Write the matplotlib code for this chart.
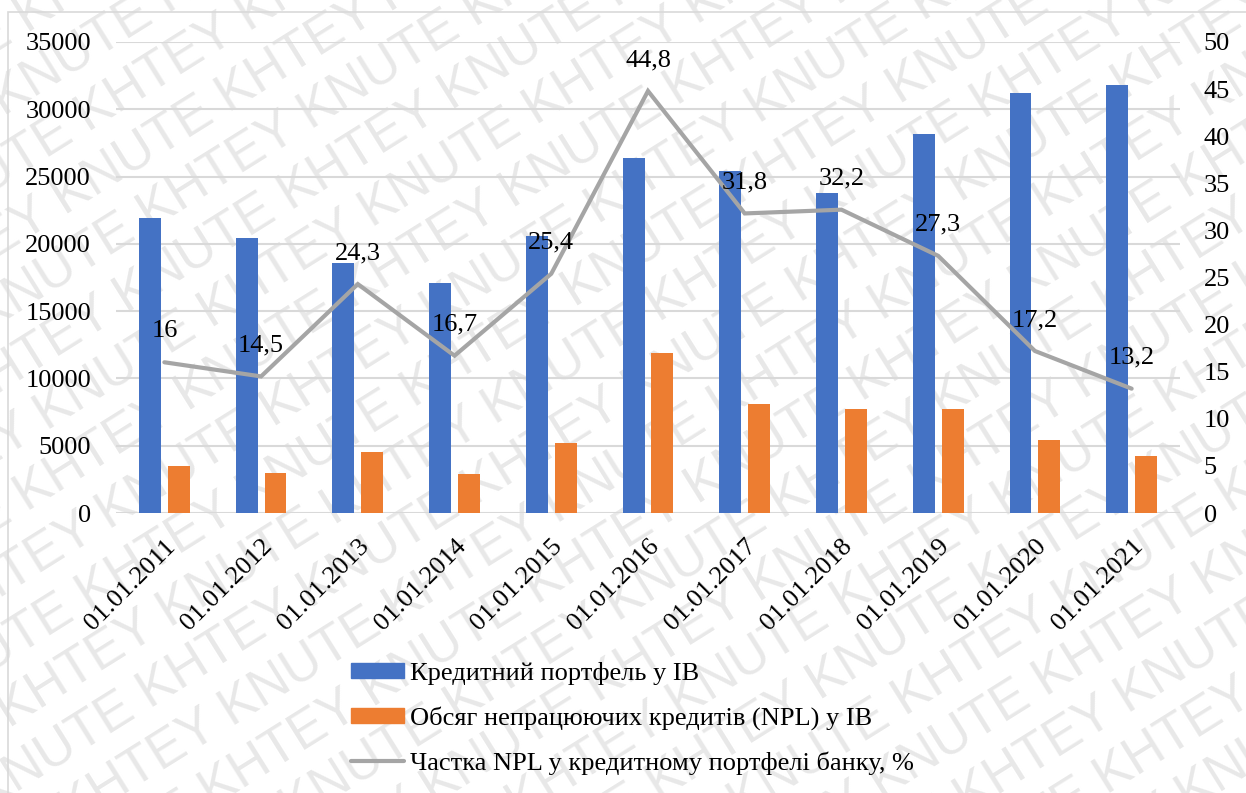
import numpy as np
import matplotlib.pyplot as plt
from matplotlib.patches import Patch, Rectangle
from matplotlib.lines import Line2D

plt.rcParams['font.family'] = 'Liberation Serif'

dates = ['01.01.2011', '01.01.2012', '01.01.2013', '01.01.2014', '01.01.2015',
         '01.01.2016', '01.01.2017', '01.01.2018', '01.01.2019', '01.01.2020',
         '01.01.2021']
portfolio = [21900, 20400, 18600, 17100, 20600, 26400, 25400, 23800, 28200, 31200, 31800]
npl_volume = [3500, 3000, 4500, 2900, 5200, 11900, 8100, 7700, 7700, 5400, 4200]
npl_share = [16, 14.5, 24.3, 16.7, 25.4, 44.8, 31.8, 32.2, 27.3, 17.2, 13.2]

lbl_portfolio = 'Кредитний портфель у ІВ'
lbl_volume = 'Обсяг непрацюючих кредитів (NPL) у ІВ'
lbl_share = 'Частка NPL у кредитному портфелі банку, %'

blue = '#4472c4'
orange = '#ed7d31'
grey = '#a5a5a5'
grid_c = '#d9d9d9'
fs = 19

W, H = 1246, 793
fig = plt.figure(figsize=(W / 100, H / 100), dpi=100)

# watermark tiled diagonally behind the chart
ang_deg = 32
ang = np.deg2rad(ang_deg)
d = np.array([np.cos(ang), np.sin(ang)])
n = np.array([-np.sin(ang), np.cos(ang)])
for k in range(-12, 13):
    word = 'KHTEY KNUTE ' if k % 2 == 0 else 'KNUTE KHTEY '
    p = np.array([W / 2, H / 2]) + k * 58 * n - 950 * d + (k % 2) * 60 * d
    t = fig.text(p[0] / W, p[1] / H, word * 9, fontsize=38, color='#e8e8e8',
                 family='Liberation Sans', rotation=ang_deg, rotation_mode='anchor',
                 ha='left', va='center', zorder=-10)
    t.set_clip_box(fig.bbox)
    t.set_clip_on(True)

# thin frame around the chart area
fig.patches.append(Rectangle((8 / W, -0.1), 2, 1 - 12 / H + 0.1, transform=fig.transFigure,
                             fill=False, edgecolor=grid_c, linewidth=1.2, zorder=-5))

ax = fig.add_axes([116 / W, 1 - 513 / H, (1180 - 116) / W, (513 - 42) / H])
ax.set_facecolor('none')
x = np.arange(len(dates))
w = 0.227
ax.bar(x - 0.149, portfolio, w, color=blue, zorder=2)
ax.bar(x + 0.149, npl_volume, w, color=orange, zorder=2)
ax.set_xlim(-0.5, len(dates) - 0.5)
ax.set_ylim(0, 35000)
ax.set_yticks(np.arange(0, 35001, 5000))
ax.yaxis.grid(True, color=grid_c, linewidth=1.5, zorder=0)
ax.set_axisbelow(True)
for s in ax.spines.values():
    s.set_visible(False)
ax.tick_params(axis='y', length=0, labelsize=fs, pad=18)
ax.tick_params(axis='x', length=0, labelsize=fs, pad=16)
ax.set_xticks(x)
ax.set_xticklabels(dates, rotation=45, ha='right', va='top', rotation_mode='anchor')

ax2 = ax.twinx()
ax2.set_ylim(0, 50)
ax2.set_yticks(np.arange(0, 51, 5))
for s in ax2.spines.values():
    s.set_visible(False)
ax2.tick_params(axis='y', length=0, labelsize=fs, pad=17)
ax2.plot(x, npl_share, color=grey, linewidth=3, solid_capstyle='round',
         solid_joinstyle='miter', zorder=3)
for xi, v in zip(x, npl_share):
    ax2.annotate(f'{v:g}'.replace('.', ','), (xi, v), xytext=(0, 22.3),
                 textcoords='offset points', ha='center', va='center', fontsize=fs)

handles = [Patch(color=blue), Patch(color=orange),
           Line2D([], [], color=grey, linewidth=3, solid_capstyle='round')]
fig.legend(handles, [lbl_portfolio, lbl_volume, lbl_share], loc='upper left',
           bbox_to_anchor=(351 / W, 1 - 662 / H), frameon=False, fontsize=fs,
           handlelength=2.0, handleheight=0.52, handletextpad=0.22,
           labelspacing=0.8, borderpad=0, borderaxespad=0)

fig.savefig('out.png', dpi=100)
